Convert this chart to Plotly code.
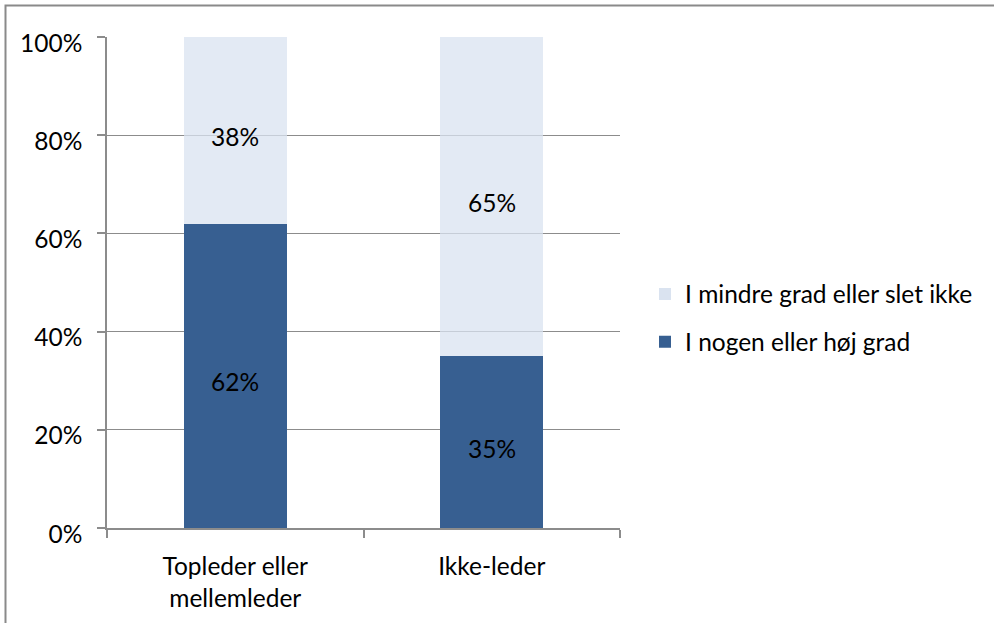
import plotly.graph_objects as go

# Andel svar pr. ledelsesniveau (procent)
categories = ["Topleder eller<br>mellemleder", "Ikke-leder"]
high_degree = [62, 35]    # I nogen eller høj grad
low_degree = [38, 65]     # I mindre grad eller slet ikke
series_names = ["I nogen eller høj grad", "I mindre grad eller slet ikke"]
y_ticks = [0, 20, 40, 60, 80, 100]
y_tick_labels = [f"{v}%" for v in y_ticks]

FONT = "Lato"
FS = 24.5
DARK = "#375F91"
LIGHT = "rgb(218,227,240)"   # drawn at 75 % opacity so the grid shows faintly through
GRID = "#8C8C8C"

fig = go.Figure()
fig.add_trace(go.Bar(
    x=categories, y=high_degree, name=series_names[0],
    marker=dict(color=DARK, line=dict(width=0)),
    width=0.4, legendgroup="a", legendrank=2,
))
fig.add_trace(go.Bar(
    x=categories, y=low_degree, name=series_names[1],
    marker=dict(color=LIGHT, opacity=0.75, line=dict(width=0)),
    width=0.4, legendgroup="b", legendrank=1,
))

# Value labels centred in each stacked segment
annotations = []
for cat, lo, hi in zip(categories, high_degree, low_degree):
    annotations.append(dict(x=cat, y=lo / 2, text=f"{lo}%", showarrow=False,
                            yshift=-6, font=dict(family=FONT, size=FS, color="black")))
    annotations.append(dict(x=cat, y=lo + hi / 2, text=f"{hi}%", showarrow=False,
                            yshift=-6, font=dict(family=FONT, size=FS, color="black")))

W, H = 994, 623
L, R, T, B = 107, 620, 37, 528
pw, ph = R - L, B - T

def px_to_paper(x, y):
    return (x - L) / pw, (B - y) / ph

# Outer frame: left and top edges visible, right/bottom run past the page
fx0, fy_top = px_to_paper(5.5, 5.5)
fx_far, fy_far = px_to_paper(1100, 700)
frame_path = f"M {fx0} {fy_far} L {fx0} {fy_top} L {fx_far} {fy_top}"

fig.update_layout(
    width=W, height=H,
    margin=dict(l=L, r=W - R, t=T, b=H - B, autoexpand=False),
    barmode="stack",
    paper_bgcolor="white", plot_bgcolor="white",
    font=dict(family=FONT, size=FS, color="black"),
    showlegend=True,
    legend=dict(
        x=px_to_paper(645, 0)[0], xanchor="left",
        y=px_to_paper(0, 318)[1], yanchor="middle",
        traceorder="grouped", tracegroupgap=13,
        font=dict(family=FONT, size=FS, color="black"),
        bgcolor="rgba(0,0,0,0)",
    ),
    xaxis=dict(
        range=[-0.5, 1.5], showline=True, linecolor=GRID, linewidth=1.5,
        ticks="outside", tickson="boundaries", ticklen=8, tickcolor=GRID, tickwidth=1.5,
        showgrid=False, tickfont=dict(family=FONT, size=FS), ticklabelstandoff=16,
        fixedrange=True,
    ),
    yaxis=dict(
        range=[0, 100], tickvals=y_ticks, ticktext=y_tick_labels,
        showline=True, linecolor=GRID, linewidth=1.5,
        ticks="outside", ticklen=8, tickcolor=GRID, tickwidth=1.5,
        showgrid=True, gridcolor=GRID, gridwidth=1,
        zeroline=False, tickfont=dict(family=FONT, size=FS),
        ticklabelstandoff=10, ticklabelshift=6,
        fixedrange=True,
    ),
    annotations=annotations,
    shapes=[dict(
        type="path", xref="paper", yref="paper", path=frame_path,
        line=dict(color="#8A8A8A", width=2), layer="below",
    )],
)

fig.write_html("out.html", config=dict(displayModeBar=False))
